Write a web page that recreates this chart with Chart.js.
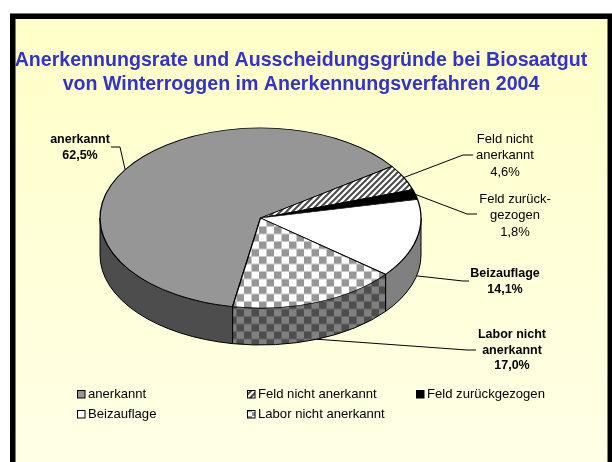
<!DOCTYPE html>
<html><head><meta charset="utf-8">
<style>html,body{margin:0;padding:0;background:#fff}canvas{display:block}</style>
<script src="https://cdn.jsdelivr.net/npm/chart.js@4"></script>
</head><body>
<div style="width:612px;height:462px"><canvas id="c" width="612" height="462"></canvas></div>
<script>
const categories = ['anerkannt','Feld nicht anerkannt','Feld zurückgezogen','Beizauflage','Labor nicht anerkannt'];
const values = [62.5,4.6,1.8,14.1,17.0];
const titleLines = ['Anerkennungsrate und Ausscheidungsgründe bei Biosaatgut','von Winterroggen im Anerkennungsverfahren 2004'];
const labelNames = [['anerkannt'],['Feld nicht','anerkannt'],['Feld zurück-','gezogen'],['Beizauflage'],['Labor nicht','anerkannt']];
const labelBold = [true,false,false,true,true];

// layout
const PIE = {cx:260.5, cy:218, rx:160.5, ry:90, depth:37};
const K = PIE.ry/PIE.rx;
const CHECK_ORIGIN = [259,226.5];
const labelPos = [
 {x:80,y:140,lh:15.5,elbow:[[120,147],[111,147]]},
 {x:505,y:139,lh:16.8,elbow:[[463,155],[473,155]]},
 {x:515,y:199,lh:16.6,elbow:[[467,214],[477,214]]},
 {x:505,y:274,lh:15.5,elbow:[[463,281],[469,281]]},
 {x:512,y:335,lh:15.3,elbow:[[467,350],[476,350]]}
];
const legendPos = [[77,390],[247,390],[416,390],[77,410],[247,410]];

function checker(a,b,cell){
  const n=Math.round(cell*2),c=document.createElement('canvas');c.width=c.height=n;
  const g=c.getContext('2d');g.fillStyle=b;g.fillRect(0,0,n,n);
  g.fillStyle=a;g.fillRect(0,0,cell,cell);g.fillRect(cell,cell,cell,cell);
  return g.createPattern(c,'repeat');
}
function hatch(){
  const s=6,c=document.createElement('canvas');c.width=c.height=s;
  const g=c.getContext('2d');g.fillStyle='#fff';g.fillRect(0,0,s,s);
  g.strokeStyle='#4a4a4a';g.lineWidth=2;
  [[-s,s,s,-s],[0,s,s,0],[0,2*s,2*s,0]].forEach(p=>{g.beginPath();g.moveTo(p[0],p[1]);g.lineTo(p[2],p[3]);g.stroke();});
  return g.createPattern(c,'repeat');
}
const ctx0=document.getElementById('c').getContext('2d');
const topChecker=checker('#969696','#ffffff',7.5);
const topHatch=hatch();
const sideChecker=checker('#4d4d4d','#808080',7.5);
const legendChecker=checker('#969696','#ffffff',4);
const topColors=['#969696',topHatch,'#000000','#ffffff',topChecker];
const sideColors=['#4d4d4d','#4d4d4d','#000000','#808080',sideChecker];

const frame={id:'frame',beforeDraw(ch){
  const c=ch.ctx;c.save();
  c.fillStyle='#fff';c.fillRect(0,0,612,462);
  c.fillStyle='#777';c.fillRect(10,13,602,449);
  c.fillStyle='#000';c.fillRect(10,14,602,448);
  const g=c.createLinearGradient(0,19,0,462);
  g.addColorStop(0,'#FFFFC8');g.addColorStop(1,'#FFFFE6');
  c.fillStyle=g;c.fillRect(15.5,19,592,443);
  c.restore();
}};
const pie3d={id:'pie3d',
 beforeDatasetsDraw(ch){
  const c=ch.ctx,meta=ch.getDatasetMeta(0),{cx,cy,rx,ry,depth}=PIE;
  sideChecker.setTransform(new DOMMatrix().translate(CHECK_ORIGIN[0],CHECK_ORIGIN[1]));
  c.save();c.lineWidth=1;c.strokeStyle='#000';c.lineJoin='round';
  meta.data.forEach((arc,i)=>{
    const s=arc.startAngle,e=arc.endAngle;
    [0,2,-2].forEach(n=>{
      const a=Math.max(s,n*Math.PI),b=Math.min(e,(n+1)*Math.PI);
      if(b<=a)return;
      c.beginPath();
      c.ellipse(cx,cy,rx,ry,0,a,b);
      c.ellipse(cx,cy+depth,rx,ry,0,b,a,true);
      c.closePath();
      c.fillStyle=sideColors[i];c.fill();c.stroke();
    });
  });
  const a0=meta.data[0];
  c.restore();c.save();
  c.translate(cx,cy);c.scale(1,K);c.translate(-a0.x,-a0.y);
  const m=new DOMMatrix().translate(a0.x,a0.y).scale(1,1/K).translate(-cx,-cy);
  topChecker.setTransform(m.translate(CHECK_ORIGIN[0],CHECK_ORIGIN[1]));topHatch.setTransform(m);
 },
 afterDatasetsDraw(ch){
  ch.ctx.restore();
  const c=ch.ctx,meta=ch.getDatasetMeta(0),{cx,cy,rx,ry,depth}=PIE;
  c.save();
  meta.data.forEach((arc,i)=>{
    const mid=(arc.startAngle+arc.endAngle)/2;
    const ax=cx+rx*Math.cos(mid),ay=cy+ry*Math.sin(mid)+(Math.sin(mid)>0?depth:0);
    const p=labelPos[i];
    c.strokeStyle='#000';c.lineWidth=1;c.beginPath();c.moveTo(ax,ay);
    p.elbow.forEach(q=>c.lineTo(q[0],q[1]));c.stroke();
    c.fillStyle='#000';c.textAlign='center';c.textBaseline='middle';
    c.font=(labelBold[i]?'bold 12.5px':'13px')+' "Liberation Sans"';
    const lines=labelNames[i].concat(values[i].toFixed(1).replace('.',',')+'%');
    lines.forEach((t,j)=>c.fillText(t,p.x,p.y+j*p.lh));
  });
  topHatch.setTransform(new DOMMatrix());
  categories.forEach((t,i)=>{
    const [x,y]=legendPos[i];
    c.fillStyle=i===4?legendChecker:topColors[i];
    c.fillRect(x,y,8,8);
    c.strokeStyle='#000';c.lineWidth=1;c.strokeRect(x+.5,y+.5,7.5,7.5);
    c.fillStyle='#000';c.textAlign='left';c.textBaseline='middle';
    c.font='13.1px "Liberation Sans"';c.fillText(t,x+11,y+4);
  });
  c.restore();
 }};
new Chart(ctx0,{type:'pie',
 data:{labels:categories,datasets:[{data:values,backgroundColor:topColors,borderColor:'#000',borderWidth:1.3,clip:false}]},
 plugins:[frame,pie3d],
 options:{responsive:false,animation:false,rotation:190,radius:PIE.rx,
  layout:{padding:{right:10}},
  plugins:{legend:{display:false},tooltip:{enabled:false},
   title:{display:true,text:titleLines,color:'#3333CC',font:{family:'"Liberation Sans"',size:19.6,weight:'bold',lineHeight:1.25},padding:{top:48,bottom:10}}}}
});
</script></body></html>
